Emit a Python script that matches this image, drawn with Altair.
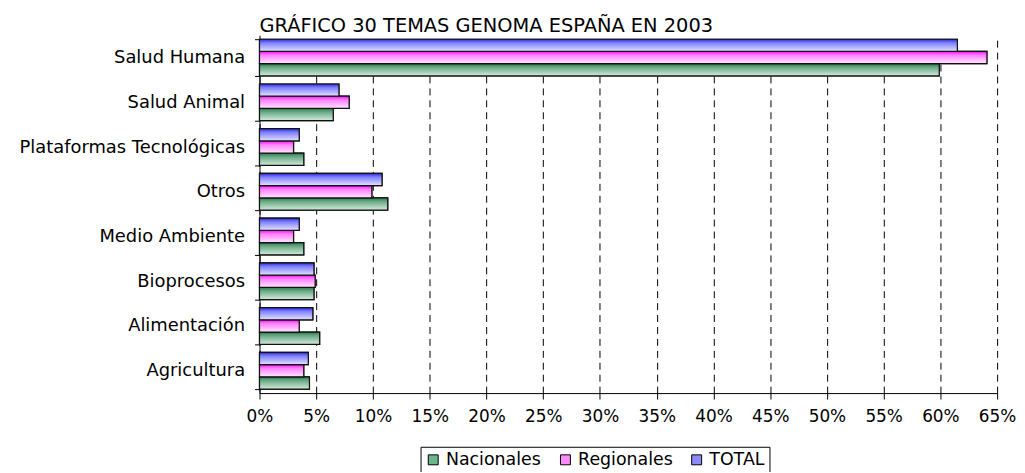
import altair as alt
import pandas as pd

categories = ["Salud Humana", "Salud Animal", "Plataformas Tecnológicas", "Otros",
              "Medio Ambiente", "Bioprocesos", "Alimentación", "Agricultura"]
nacionales = [59.9, 6.5, 3.9, 11.3, 3.9, 4.8, 5.3, 4.4]
regionales = [64.1, 7.9, 3.0, 9.9, 3.0, 4.9, 3.5, 3.9]
total = [61.5, 7.0, 3.5, 10.8, 3.5, 4.8, 4.7, 4.3]
series_names = ["Nacionales", "Regionales", "TOTAL"]
x_ticks = [0, 5, 10, 15, 20, 25, 30, 35, 40, 45, 50, 55, 60, 65]
title_text = "GRÁFICO 30 TEMAS GENOMA ESPAÑA EN 2003"

rows = []
for name, vals in zip(series_names, [nacionales, regionales, total]):
    for c, v in zip(categories, vals):
        rows.append({"cat": c, "series": name, "value": v})
df = pd.DataFrame(rows)

FONT = "DejaVu Sans"
offset_order = ["TOTAL", "Regionales", "Nacionales"]

flat_colors = ["#6fb58a", "#ff8cff", "#8c8cff"]
gradients = {
    "TOTAL": [(0, "#2a2ae0"), (0.3, "#8080ff"), (1, "#e4e4ff")],
    "Regionales": [(0, "#ff10ff"), (0.3, "#ff80ff"), (1, "#ffe8ff")],
    "Nacionales": [(0, "#2a7a4c"), (0.3, "#6aaa86"), (1, "#d4ebdd")],
}

y_enc = alt.Y("cat:N", sort=categories, title=None,
              scale=alt.Scale(paddingInner=0.18, paddingOuter=0.09),
              axis=alt.Axis(tickBand="extent", tickSize=5, labelPadding=10,
                            labelFont=FONT, labelFontSize=18, labelColor="#000",
                            domainColor="#000", tickColor="#000", grid=False,
                            labelLimit=300))
x_enc = alt.X("value:Q", title=None,
              scale=alt.Scale(domain=[0, 65], nice=False),
              axis=alt.Axis(values=x_ticks, labelExpr="datum.value + '%'",
                            labelFont=FONT, labelFontSize=17, labelColor="#000",
                            labelFlush=False, labelOverlap=False,
                            tickSize=6, labelPadding=10, domainColor="#000",
                            tickColor="#000", grid=True, gridColor="#000",
                            gridDash=[7, 5], gridWidth=1))
yoff = alt.YOffset("series:N", scale=alt.Scale(domain=offset_order, paddingInner=0, paddingOuter=0))

base = alt.Chart(df).encode(y=y_enc, x=x_enc, yOffset=yoff)

legend_layer = base.mark_bar(stroke="#111", strokeWidth=1.2).encode(
    color=alt.Color("series:N", scale=alt.Scale(domain=series_names, range=flat_colors),
                    legend=alt.Legend(title=None, orient="none", legendX=162, legendY=414,
                                      direction="horizontal", strokeColor="#000",
                                      padding=4, symbolType="square", symbolSize=100,
                                      symbolStrokeColor="#000", symbolStrokeWidth=1,
                                      labelFont=FONT, labelFontSize=17.5, labelColor="#000",
                                      columnPadding=15, symbolOffset=0))
)

layers = [legend_layer]
for s in series_names:
    grad = alt.Gradient(gradient="linear", x1=0, y1=0, x2=0, y2=1,
                        stops=[alt.GradientStop(offset=o, color=c) for o, c in gradients[s]])
    layers.append(
        base.transform_filter(alt.datum.series == s).mark_bar(
            fill=grad, stroke="#111", strokeWidth=1.2, cornerRadius=0)
    )

chart = alt.layer(*layers).properties(
    width=742, height=360,
    title=alt.Title(title_text, anchor="start", frame="group", font=FONT, fontSize=19.5,
                    fontWeight="normal", color="#000", offset=6, dy=16),
    autosize=alt.AutoSizeParams(type="none"),
    padding={"left": 253, "top": 26, "right": 20, "bottom": 78},
).configure_view(stroke=None).configure_axis(domainWidth=1)

chart.save("out.html", embed_options={"renderer": "svg", "actions": False})
